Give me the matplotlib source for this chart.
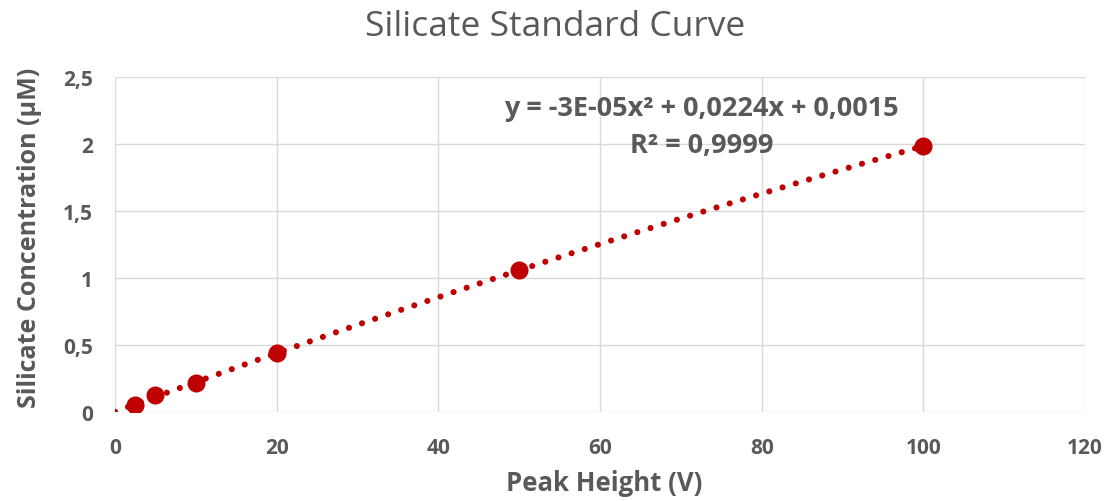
import numpy as np
import matplotlib.pyplot as plt

# Silicate standards: peak height (V) vs concentration (uM)
peak_height = [2.5, 5, 10, 20, 50, 100]
concentration = [0.04972, 0.12619, 0.21627, 0.44019, 1.05738, 1.98500]

x_ticks = [0, 20, 40, 60, 80, 100, 120]
y_ticks = [0, 0.5, 1, 1.5, 2, 2.5]
y_tick_labels = ["0", "0,5", "1", "1,5", "2", "2,5"]

# 2nd-order polynomial trendline + R^2
coef = np.polyfit(peak_height, concentration, 2)
fit = np.poly1d(coef)
y_arr = np.array(concentration)
ss_res = np.sum((y_arr - fit(peak_height)) ** 2)
ss_tot = np.sum((y_arr - y_arr.mean()) ** 2)
r2 = 1 - ss_res / ss_tot

plt.rcParams['font.family'] = ['Open Sans', 'DejaVu Sans']
grey = "#595959"
red = "#C00000"

fig = plt.figure(figsize=(11.13, 5.02), dpi=100)
ax = fig.add_axes([0.1033, 0.1773, 0.8715, 0.6673])

xx = np.linspace(0, max(peak_height), 300)
ax.plot(xx, fit(xx), color=red, linewidth=4.4, linestyle=(0, (0.01, 2.25)),
        dash_capstyle="round", zorder=2)
ax.plot(peak_height, concentration, "o", color=red, markersize=12, zorder=3)

ax.set_xlim(0, 120)
ax.set_ylim(0, 2.5)
ax.set_xticks(x_ticks)
ax.set_yticks(y_ticks)
ax.set_yticklabels(y_tick_labels)
ax.grid(True, color="#D9D9D9", linewidth=1)
ax.set_axisbelow(True)
for s in ax.spines.values():
    s.set_visible(False)
ax.tick_params(length=0, labelsize=15, labelcolor=grey)
ax.tick_params(axis="x", pad=18)
ax.tick_params(axis="y", pad=16)
for lab in ax.get_xticklabels() + ax.get_yticklabels():
    lab.set_fontweight("bold")

fig.text(604.5 / 1113, 1 - 484 / 502, "Peak Height (V)", ha="center", va="center",
         fontsize=18.5, fontweight="bold", color=grey)
fig.text(30 / 1113, 1 - 238 / 502, "Silicate Concentration (µM)", ha="center",
         va="center", rotation=90, fontsize=18, fontweight="bold", color=grey)
fig.text(555 / 1113, 1 - 27 / 502, "Silicate Standard Curve", ha="center",
         va="center", fontsize=25.5, color=grey)

def fmt(v, nd):
    return f"{v:.{nd}f}".replace(".", ",")

line1 = f"y = {coef[0]:.0E}x² + {fmt(coef[1], 4)}x + {fmt(coef[2], 4)}"
line2 = f"R² = {fmt(r2, 4)}"
ax.text(72.6, 2.27, line1, ha="center", va="center", fontsize=19.5,
        fontweight="bold", color=grey)
ax.text(72.6, 1.995, line2, ha="center", va="center", fontsize=19.5,
        fontweight="bold", color=grey)

fig.savefig("out.png", dpi=100)
